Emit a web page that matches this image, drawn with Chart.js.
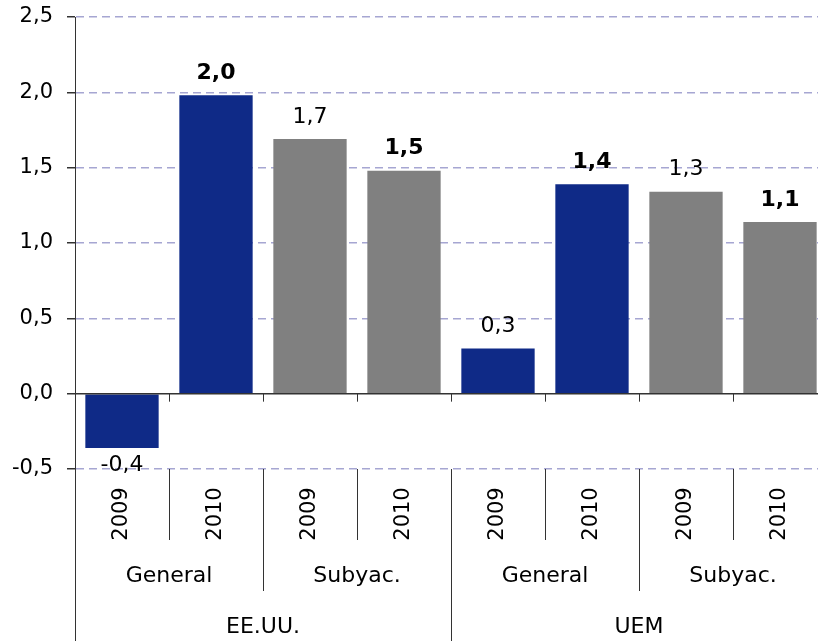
<!DOCTYPE html>
<html>
<head>
<meta charset="utf-8">
<script src="https://cdn.jsdelivr.net/npm/chart.js@4"></script>
<style>
  body { margin: 0; background: #fff; }
  #caja { width: 818px; height: 641px; position: relative; }
</style>
</head>
<body>
<div id="caja"><canvas id="grafico"></canvas></div>
<script>
const anios = ['2009', '2010', '2009', '2010', '2009', '2010', '2009', '2010'];
const grupos = ['General', 'Subyac.', 'General', 'Subyac.'];
const paises = ['EE.UU.', 'UEM'];
const valores = [-0.36, 1.98, 1.69, 1.48, 0.30, 1.39, 1.34, 1.14];
const negrita = [false, true, false, true, false, true, false, true];
const colores = ['#0f2a87', '#0f2a87', '#808080', '#808080', '#0f2a87', '#0f2a87', '#808080', '#808080'];

const fuente = 'DejaVu Sans';

function formato(v) {
    return v.toFixed(1).replace('.', ',');
}

// el area del grafico sigue un poco mas alla del borde derecho, como en el original
const zona = {
    id: 'zona',
    afterLayout(chart) {
        const a = chart.chartArea;
        a.top = 17;
        a.right = 827;
        a.width = a.right - a.left;
        a.height = a.bottom - a.top;
        const x = chart.scales.x;
        x.right = 827;
        x.width = x.right - x.left;
        x.configure();
        const y = chart.scales.y;
        y.top = 17;
        y.height = y.bottom - y.top;
        y.configure();
    }
};

// etiquetas encima de las barras y eje de categorias en varios niveles
const dibujos = {
    id: 'dibujos',
    afterDatasetsDraw(chart) {
        const ctx = chart.ctx;
        const x = chart.scales.x;
        const y = chart.scales.y;
        const area = chart.chartArea;
        const meta = chart.getDatasetMeta(0);
        const y0 = y.getPixelForValue(0);
        const ancho = x.getPixelForValue(1) - x.getPixelForValue(0);
        const abajo = area.bottom;
        const fin = chart.height;

        ctx.save();
        // valores
        ctx.fillStyle = '#000';
        ctx.textAlign = 'center';
        ctx.textBaseline = 'middle';
        meta.data.forEach((barra, i) => {
            ctx.font = (negrita[i] ? 'bold ' : '') + '22px "' + fuente + '"';
            const yy = valores[i] >= 0 ? barra.y - 22 : barra.y + 17;
            ctx.fillText(formato(valores[i]), barra.x, yy);
        });

        // linea del cero
        ctx.strokeStyle = '#333';
        ctx.lineWidth = 1.5;
        ctx.beginPath();
        ctx.moveTo(area.left, y0);
        ctx.lineTo(area.right, y0);
        ctx.stroke();

        ctx.lineWidth = 1;
        ctx.beginPath();
        // prolongacion del eje vertical
        ctx.moveTo(area.left + 0.5, abajo);
        ctx.lineTo(area.left + 0.5, fin);
        for (let i = 1; i <= anios.length; i++) {
            const xb = Math.round(x.getPixelForValue(0) - ancho / 2 + ancho * i) + 0.5;
            // marcas en el cero
            ctx.moveTo(xb, y0);
            ctx.lineTo(xb, y0 + 8);
            if (i === anios.length) continue;
            let largo = 71;
            if (i % 2 === 0) largo = 122;
            if (i % 4 === 0) largo = fin - abajo;
            ctx.moveTo(xb, abajo);
            ctx.lineTo(xb, abajo + largo);
        }
        ctx.stroke();

        // textos del eje
        ctx.font = '21px "' + fuente + '"';
        anios.forEach((a, i) => {
            ctx.save();
            ctx.translate(x.getPixelForValue(i), abajo + 45);
            ctx.rotate(-Math.PI / 2);
            ctx.fillText(a, 0, 0);
            ctx.restore();
        });
        ctx.font = '22px "' + fuente + '"';
        grupos.forEach((g, j) => {
            const xc = (x.getPixelForValue(j * 2) + x.getPixelForValue(j * 2 + 1)) / 2;
            ctx.fillText(g, xc, abajo + 107);
        });
        paises.forEach((p, k) => {
            const xc = (x.getPixelForValue(k * 4) + x.getPixelForValue(k * 4 + 3)) / 2;
            ctx.fillText(p, xc, abajo + 158);
        });
        ctx.restore();
    }
};

const ctx = document.getElementById('grafico').getContext('2d');

const grafico = new Chart(ctx, {
    type: 'bar',
    data: {
        labels: anios,
        datasets: [{
            data: valores,
            backgroundColor: colores,
            borderWidth: 0,
            barPercentage: 0.78,
            categoryPercentage: 1
        }]
    },
    options: {
        responsive: true,
        maintainAspectRatio: false,
        animation: false,
        layout: {
            padding: { top: 17, right: 0, bottom: 172, left: 0 }
        },
        plugins: {
            legend: { display: false },
            tooltip: { enabled: false }
        },
        scales: {
            x: {
                display: false
            },
            y: {
                min: -0.5,
                max: 2.5,
                afterFit(scale) {
                    scale.width = 75;
                },
                ticks: {
                    stepSize: 0.5,
                    padding: 14,
                    color: '#000',
                    font: { family: fuente, size: 21 },
                    callback: (v) => formato(v)
                },
                grid: {
                    color: (c) => c.tick && c.tick.value === 0 ? 'rgba(0,0,0,0)' : '#a6a6d2',
                    tickColor: '#333',
                    tickLength: 8,
                    tickBorderDash: [],
                    lineWidth: 1.5
                },
                border: {
                    color: '#333',
                    width: 1,
                    dash: [8, 5]
                }
            }
        }
    },
    plugins: [zona, dibujos]
});
</script>
</body>
</html>
